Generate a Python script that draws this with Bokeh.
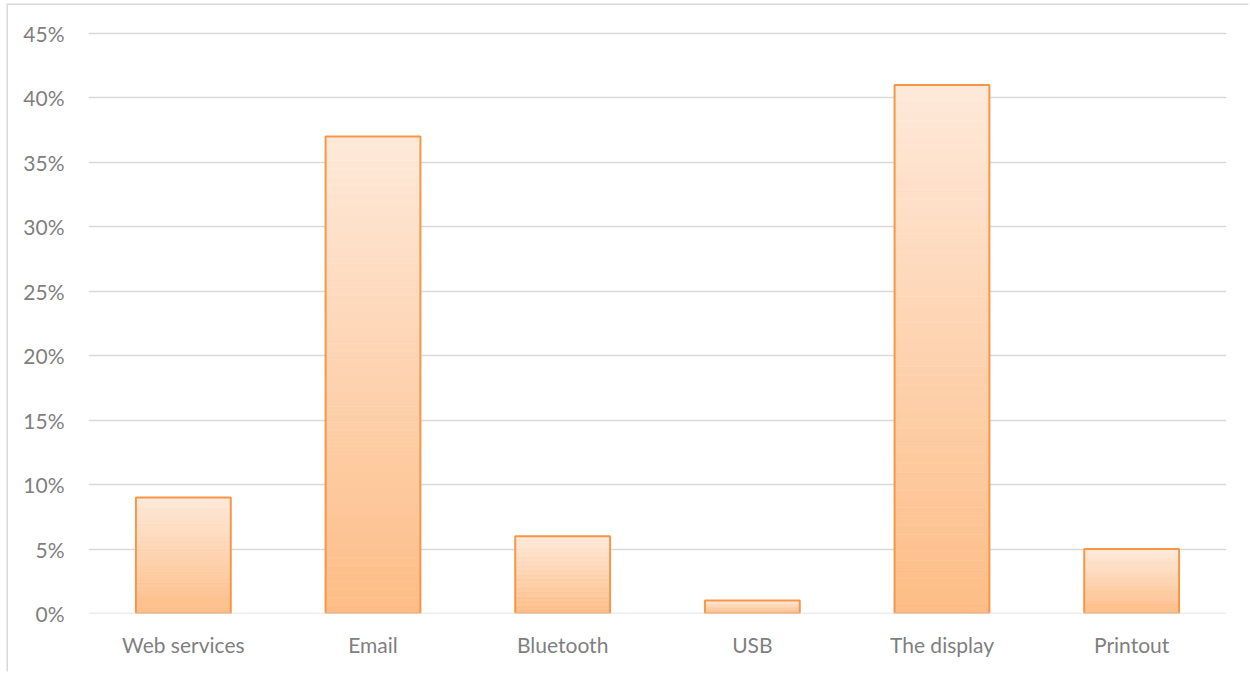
from bokeh.plotting import figure
from bokeh.models import FactorRange, Range1d, FixedTicker, NumeralTickFormatter, Span
from bokeh.embed import file_html
from bokeh.resources import INLINE

categories = ["Web services", "Email", "Bluetooth", "USB", "The display", "Printout"]
shares = [0.09, 0.37, 0.06, 0.01, 0.41, 0.05]
y_ticks = [0.0, 0.05, 0.10, 0.15, 0.20, 0.25, 0.30, 0.35, 0.40, 0.45]

BOTTOM_COLOR = (253, 189, 134)
TOP_COLOR = (254, 233, 218)
N_SLICES = 60

OFF_X, OFF_Y = 8, 5

p = figure(
    width=1250 - OFF_X, height=673 - OFF_Y,
    x_range=FactorRange(*categories),
    y_range=Range1d(0, 0.4515),
    output_backend="svg", toolbar_location=None,
    min_border_left=88 - OFF_X, min_border_right=24,
    min_border_top=31 - OFF_Y, min_border_bottom=60,
)
p.margin = (OFF_Y, 0, 0, OFF_X)
p.styles = {"box-shadow": "-1.5px -1.5px 0 0 #D9D9D9"}
p.outline_line_color = None
p.background_fill_color = "white"
p.border_fill_color = "white"

# gradient bars made of thin stacked slices
xs, bottoms, tops, colors = [], [], [], []
for cat, v in zip(categories, shares):
    for k in range(N_SLICES):
        t = (k + 0.5) / N_SLICES
        c = tuple(int(round(BOTTOM_COLOR[j] + (TOP_COLOR[j] - BOTTOM_COLOR[j]) * t)) for j in range(3))
        xs.append(cat)
        bottoms.append(v * k / N_SLICES)
        tops.append(v * (k + 1) / N_SLICES)
        colors.append("#%02x%02x%02x" % c)

p.vbar(x=xs, bottom=bottoms, top=tops, width=0.5, fill_color=colors, line_color=colors, line_width=0.6)
p.vbar(x=categories, top=shares, width=0.5, fill_color=None, line_color="#F79646", line_width=2)

p.add_layout(Span(location=0, dimension="width", line_color="#D9D9D9", line_width=1.5))

p.xgrid.grid_line_color = None
p.ygrid.grid_line_color = "#D9D9D9"
p.ygrid.grid_line_width = 1.5
p.ygrid.ticker = FixedTicker(ticks=y_ticks)

p.yaxis.ticker = FixedTicker(ticks=y_ticks)
p.yaxis.formatter = NumeralTickFormatter(format="0%")
for ax in (p.xaxis[0], p.yaxis[0]):
    ax.axis_line_color = None
    ax.major_tick_line_color = None
    ax.minor_tick_line_color = None
    ax.major_label_text_font = "Lato"
    ax.major_label_text_font_size = "21px"
    ax.major_label_text_color = "#7F7F7F"
p.yaxis.major_label_standoff = 18
p.xaxis.major_label_standoff = 12

open("out.html", "w").write(file_html(p, INLINE))
